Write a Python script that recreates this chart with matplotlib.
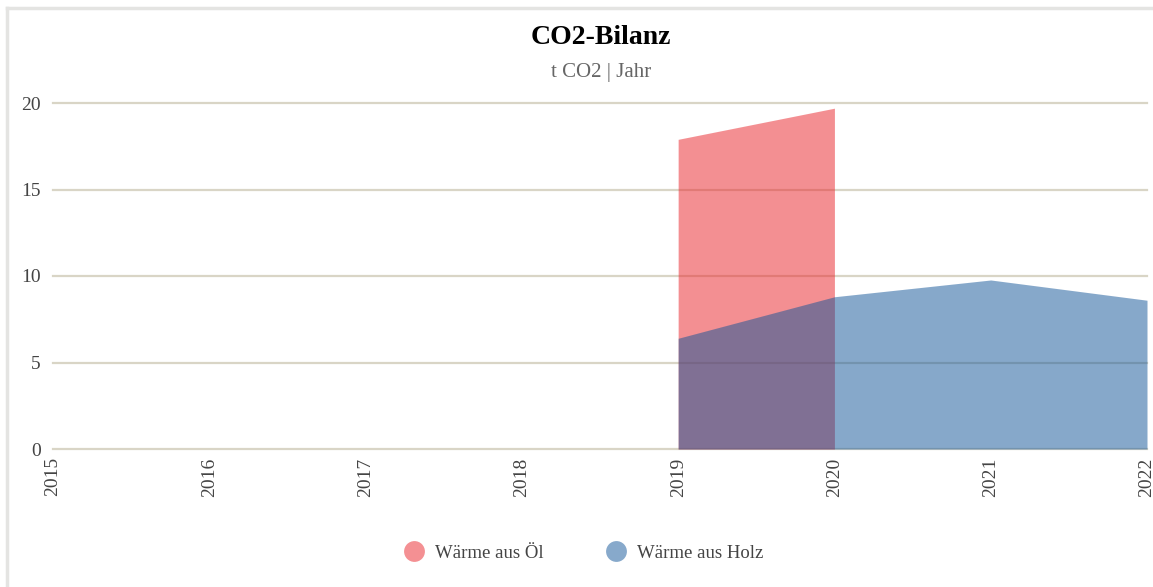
import matplotlib
matplotlib.use("Agg")
import matplotlib.pyplot as plt
from matplotlib.lines import Line2D

years = [2015, 2016, 2017, 2018, 2019, 2020, 2021, 2022]
oel_years = [2019, 2020]
oel_values = [17.9, 19.7]
holz_years = [2019, 2020, 2021, 2022]
holz_values = [6.4, 8.8, 9.77, 8.6]
y_ticks = [0, 5, 10, 15, 20]
series_names = ["Wärme aus Öl", "Wärme aus Holz"]

plt.rcParams['font.family'] = ['Liberation Serif', 'DejaVu Serif']

W, H = 1153, 587
fig = plt.figure(figsize=(W / 100, H / 100), dpi=100)
fig.patch.set_facecolor('white')

# outer frame (left and top visible)
frame_col = '#e4e4e2'
fig.add_artist(Line2D([6.5 / W, 6.5 / W], [0, 1 - 7.5 / H], transform=fig.transFigure, color=frame_col, lw=2.5))
fig.add_artist(Line2D([6.5 / W, 1], [1 - 7.5 / H, 1 - 7.5 / H], transform=fig.transFigure, color=frame_col, lw=2.5))

left, right = 53 / W, 1147 / W
bottom, top = 1 - 449 / H, 1 - 103 / H
ax = fig.add_axes([left, bottom, right - left, top - bottom])
ax.set_xlim(years[0], years[-1])
ax.set_ylim(0, 20)

for s in ax.spines.values():
    s.set_visible(False)

ax.set_yticks(y_ticks)
ax.set_yticklabels([str(v) for v in y_ticks])
ax.set_xticks(years)
ax.set_xticklabels([str(y) for y in years], rotation=90, va='top', ha='center')
ax.tick_params(length=0, labelcolor='#444444')
ax.tick_params(axis='y', pad=9, labelsize=14)
ax.tick_params(axis='x', pad=6, labelsize=14)
for v in y_ticks:
    ax.axhline(v, color='#d9d5c6', lw=1.6, zorder=0, clip_on=False)

red = '#e92127'
blue = '#0f5397'
ax.fill_between(oel_years, 0, oel_values, color=red, alpha=0.5, lw=0, zorder=2)
ax.fill_between(holz_years, 0, holz_values, color=blue, alpha=0.5, lw=0, zorder=3)

cx = 601 / W
fig.text(cx, 1 - 38 / H, "CO2-Bilanz", ha='center', va='center', fontsize=20, fontweight='bold', color='black')
fig.text(cx, 1 - 72 / H, "t CO2 | Jahr", ha='center', va='center', fontsize=15, color='#666666')

handles = [
    Line2D([], [], marker='o', ls='none', markersize=15, markerfacecolor='#f49093', markeredgecolor='none'),
    Line2D([], [], marker='o', ls='none', markersize=15, markerfacecolor='#87a9cb', markeredgecolor='none'),
]
fig.legend(handles, series_names, loc='center', bbox_to_anchor=(583 / W, 1 - 553 / H), ncol=2,
           frameon=False, fontsize=13.5, handletextpad=0.5, columnspacing=3.3, labelcolor='#444444',
           handlelength=1.2)

fig.savefig('out.png', dpi=100)
